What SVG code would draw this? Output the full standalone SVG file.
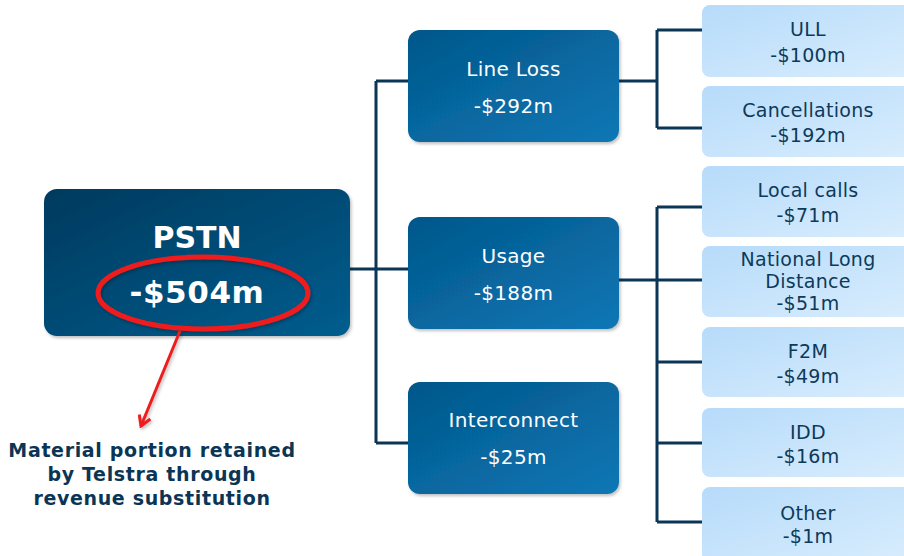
<svg xmlns="http://www.w3.org/2000/svg" width="904" height="556" viewBox="0 0 904 556">
<defs>
<linearGradient id="gDark" x1="0" y1="0" x2="1" y2="1">
<stop offset="0" stop-color="#04578a"/>
<stop offset="1" stop-color="#0a77b5"/>
</linearGradient>
<linearGradient id="gRoot" x1="0" y1="0" x2="1" y2="1">
<stop offset="0" stop-color="#033a5e"/>
<stop offset="1" stop-color="#055d8e"/>
</linearGradient>
<linearGradient id="gLight" x1="0" y1="0" x2="1" y2="1">
<stop offset="0" stop-color="#b6dbfa"/>
<stop offset="1" stop-color="#d9edfd"/>
</linearGradient>
<filter id="sh" x="-10%" y="-10%" width="130%" height="130%">
<feDropShadow dx="1.5" dy="2" stdDeviation="1.5" flood-color="#000" flood-opacity="0.25"/>
</filter>
<marker id="arr" markerWidth="14" markerHeight="14" refX="12" refY="7" orient="auto" markerUnits="userSpaceOnUse">
<path d="M2,1 L12,7 L2,13" fill="none" stroke="#ee1c1c" stroke-width="3"/>
</marker>
</defs>
<style>
.dark{fill:url(#gDark);filter:url(#sh)}
.light{fill:url(#gLight)}
.dt{font-family:"DejaVu Sans",Verdana,sans-serif;font-size:20px;letter-spacing:0.3px;fill:#ffffff;text-anchor:middle}
.lt{font-family:"DejaVu Sans",Verdana,sans-serif;font-size:19px;letter-spacing:0.3px;fill:#0d3a5a;text-anchor:middle}
.conn{fill:none;stroke:#0b3554;stroke-width:3}
.note{font-family:"DejaVu Sans",Verdana,sans-serif;font-size:19px;font-weight:bold;letter-spacing:0.65px;fill:#0b3554;text-anchor:middle}
</style>
<rect width="904" height="556" fill="#ffffff"/>
<g id="connectors">
<path class="conn" d="M350,269 H376 M376,81 V443 M376,81 H408 M376,269 H408 M376,443 H408"/>
<path class="conn" d="M619,81 H657 M657,30 V128 M657,30 H702 M657,128 H702"/>
<path class="conn" d="M619,280 H702 M657,207 V522 M657,207 H702 M657,362 H702 M657,443 H702 M657,522 H702"/>
</g>
<g id="pstn">
<rect x="44" y="189" width="306" height="147" rx="13" fill="url(#gRoot)" filter="url(#sh)"/>
<text x="197" y="248" font-family="DejaVu Sans, Verdana, sans-serif" font-size="30" font-weight="bold" fill="#ffffff" text-anchor="middle">PSTN</text>
<text x="197" y="303" font-family="DejaVu Sans, Verdana, sans-serif" font-size="31" font-weight="bold" letter-spacing="0.6" fill="#ffffff" text-anchor="middle">-$504m</text>
</g>
<g id="highlight">
<ellipse cx="203" cy="293" rx="105" ry="36" fill="none" stroke="#ee1c1c" stroke-width="5" filter="url(#sh)"/>
<path d="M180,331 L141,426" fill="none" stroke="#ee1c1c" stroke-width="3" marker-end="url(#arr)" filter="url(#sh)"/>
</g>
<g id="note">
<text class="note" x="152" y="457">Material portion retained</text>
<text class="note" x="152" y="481">by Telstra through</text>
<text class="note" x="152" y="505">revenue substitution</text>
</g>
<g id="lineloss">
<rect class="dark" x="408" y="30" width="211" height="112" rx="12"/>
<text class="dt" x="513.5" y="76">Line Loss</text>
<text class="dt" x="513.5" y="113">-$292m</text>
</g>
<g id="usage">
<rect class="dark" x="408" y="217" width="211" height="112" rx="12"/>
<text class="dt" x="513.5" y="263">Usage</text>
<text class="dt" x="513.5" y="300">-$188m</text>
</g>
<g id="interconnect">
<rect class="dark" x="408" y="382" width="211" height="112" rx="12"/>
<text class="dt" x="513.5" y="427">Interconnect</text>
<text class="dt" x="513.5" y="464">-$25m</text>
</g>
<g id="ull">
<rect class="light" x="702" y="5" width="214" height="72" rx="8"/>
<text class="lt" x="808" y="36">ULL</text>
<text class="lt" x="808" y="62">-$100m</text>
</g>
<g id="cancellations">
<rect class="light" x="702" y="86" width="214" height="71" rx="8"/>
<text class="lt" x="808" y="117">Cancellations</text>
<text class="lt" x="808" y="142">-$192m</text>
</g>
<g id="localcalls">
<rect class="light" x="702" y="166" width="214" height="71" rx="8"/>
<text class="lt" x="808" y="197">Local calls</text>
<text class="lt" x="808" y="222">-$71m</text>
</g>
<g id="nld">
<rect class="light" x="702" y="246" width="214" height="71" rx="8"/>
<text class="lt" x="808" y="266">National Long</text>
<text class="lt" x="808" y="288">Distance</text>
<text class="lt" x="808" y="310">-$51m</text>
</g>
<g id="f2m">
<rect class="light" x="702" y="327" width="214" height="70" rx="8"/>
<text class="lt" x="808" y="358">F2M</text>
<text class="lt" x="808" y="383">-$49m</text>
</g>
<g id="idd">
<rect class="light" x="702" y="408" width="214" height="69" rx="8"/>
<text class="lt" x="808" y="439">IDD</text>
<text class="lt" x="808" y="463">-$16m</text>
</g>
<g id="other">
<rect class="light" x="702" y="487" width="214" height="75" rx="8"/>
<text class="lt" x="808" y="520">Other</text>
<text class="lt" x="808" y="543">-$1m</text>
</g>
</svg>
